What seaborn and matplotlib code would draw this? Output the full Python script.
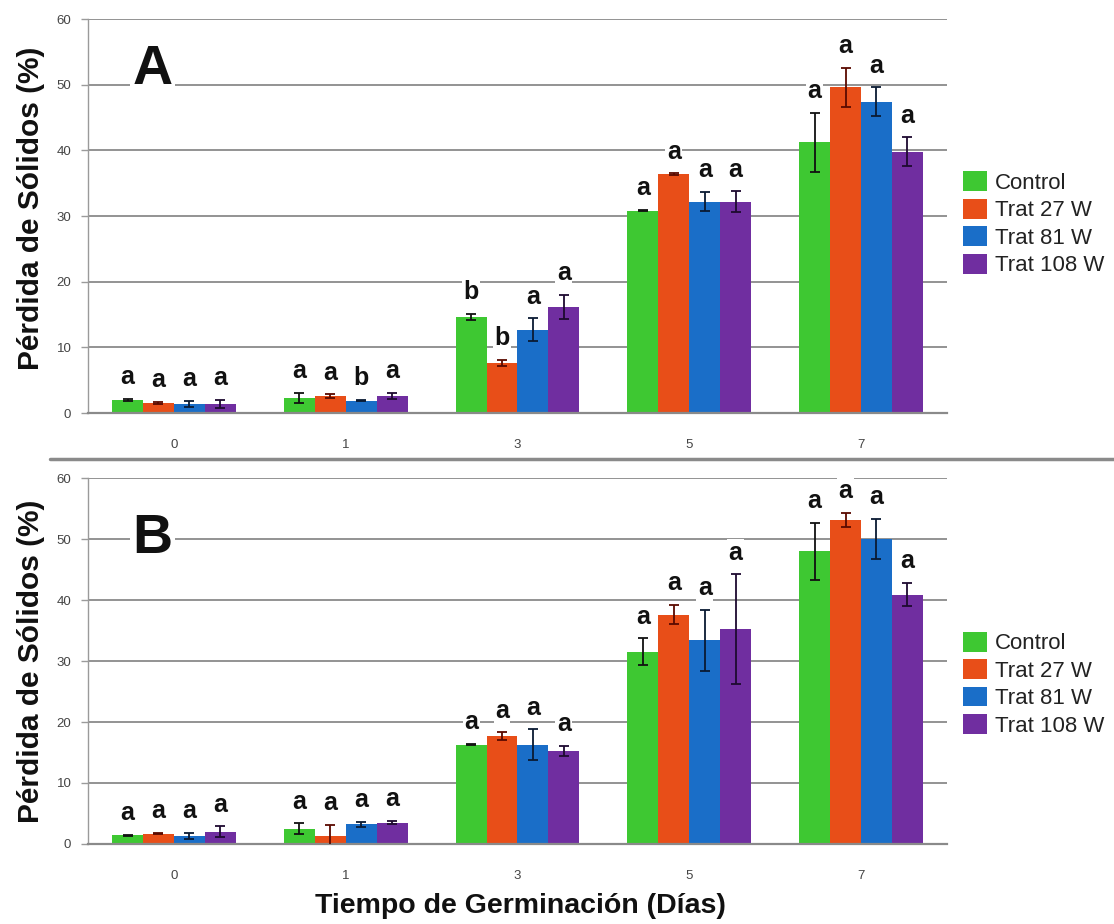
import matplotlib
matplotlib.use("Agg")
import matplotlib.pyplot as plt
from matplotlib.lines import Line2D
import seaborn as sns
import pandas as pd

# Días de germinación y tratamientos
days = ['0', '1', '3', '5', '7']
treatments = ['Control', 'Trat 27 W', 'Trat 81 W', 'Trat 108 W']
colors = ['#3EC832', '#E84E18', '#1A6EC8', '#702EA0']
err_colors = ['#111111', '#5a0a00', '#0a1a33', '#1e0a30']

# Panel A: medias, desviaciones y letras (una fila por tratamiento)
a_means = [
    [2.0, 2.3, 14.6, 30.8, 41.2],
    [1.5, 2.6, 7.6, 36.4, 49.6],
    [1.4, 1.9, 12.7, 32.2, 47.4],
    [1.4, 2.6, 16.1, 32.2, 39.8],
]
a_errs = [
    [0.15, 0.8, 0.5, 0.1, 4.5],
    [0.15, 0.25, 0.5, 0.1, 3.0],
    [0.5, 0.1, 1.7, 1.5, 2.2],
    [0.6, 0.45, 1.85, 1.55, 2.2],
]
a_letters = [
    ['a', 'a', 'b', 'a', 'a'],
    ['a', 'a', 'b', 'a', 'a'],
    ['a', 'b', 'a', 'a', 'a'],
    ['a', 'a', 'a', 'a', 'a'],
]

# Panel B
b_means = [
    [1.4, 2.5, 16.3, 31.5, 48.0],
    [1.7, 1.3, 17.7, 37.6, 53.1],
    [1.3, 3.2, 16.3, 33.4, 50.0],
    [2.0, 3.5, 15.3, 35.2, 40.9],
]
b_errs = [
    [0.15, 0.9, 0.15, 2.2, 4.7],
    [0.1, 1.8, 0.6, 1.6, 1.2],
    [0.5, 0.4, 2.5, 5.0, 3.3],
    [0.9, 0.3, 0.8, 9.0, 1.9],
]
b_letters = [['a'] * 5 for _ in treatments]

sns.set_theme(style="white")
plt.rcParams['font.family'] = ['Liberation Sans', 'DejaVu Sans']

fig = plt.figure(figsize=(11.14, 9.24), dpi=100)
ax_a = fig.add_axes([0.079, 0.553, 0.771, 0.4264])
ax_b = fig.add_axes([0.079, 0.0866, 0.771, 0.396])


def draw_panel(ax, means, errs, letters, tag, tag_y, tag_va, legend_y, ylab_y):
    rows = []
    for t, m_row in zip(treatments, means):
        for d, m in zip(days, m_row):
            rows.append({'day': d, 'value': m, 'treatment': t})
    df = pd.DataFrame(rows)

    sns.barplot(data=df, x='day', y='value', hue='treatment', order=days,
                hue_order=treatments, palette=colors, errorbar=None,
                width=0.72, gap=0, saturation=1, linewidth=0, ax=ax, zorder=2)

    bar_conts = list(ax.containers)
    for i, cont in enumerate(bar_conts):
        xs = [b.get_x() + b.get_width() / 2 for b in cont.patches]
        ax.errorbar(xs, means[i], yerr=errs[i], fmt='none', ecolor=err_colors[i],
                    elinewidth=1.3, capsize=3.5, capthick=1.3, zorder=3)
        for x, m, e, lab in zip(xs, means[i], errs[i], letters[i]):
            ax.annotate(lab, (x, m + e), xytext=(0, 7), textcoords='offset points',
                        ha='center', va='bottom', fontsize=18, fontweight='bold',
                        color='#111111', zorder=4,
                        bbox=dict(facecolor='white', edgecolor='none', pad=1.0))

    ax.set_xlim(-0.5, 4.5)
    ax.set_ylim(0, 60)
    ax.set_yticks(range(0, 61, 10))
    ax.yaxis.grid(True, color='#8a8a8a', linewidth=1.3, zorder=0)
    ax.set_axisbelow(True)
    for s in ['top', 'right']:
        ax.spines[s].set_visible(False)
    ax.spines['left'].set_color('#9a9a9a')
    ax.spines['left'].set_linewidth(1.0)
    ax.spines['bottom'].set_color('#8a8a8a')
    ax.spines['bottom'].set_linewidth(1.6)
    ax.tick_params(axis='y', left=True, length=5, width=1, color='#9a9a9a',
                   labelsize=9.5, labelcolor='#444444', pad=7)
    ax.tick_params(axis='x', bottom=False, labelsize=9.5, labelcolor='#444444', pad=13)

    ax.set_ylabel('Pérdida de Sólidos (%)', fontsize=21.5, fontweight='bold', color='#111111')
    ax.yaxis.set_label_coords(-0.05, ylab_y)
    ax.set_xlabel('')

    ax.text(0.075, tag_y, tag, transform=ax.transAxes, fontsize=40, fontweight='bold',
            ha='center', va=tag_va, color='#111111', zorder=5,
            bbox=dict(facecolor='white', edgecolor='none', pad=2))

    handles, labels = ax.get_legend_handles_labels()
    ax.legend(handles, labels, loc='center left', bbox_to_anchor=(1.0186, legend_y),
              frameon=False, fontsize=16, handlelength=1.1, handleheight=1.0,
              labelspacing=0.22, handletextpad=0.35, borderaxespad=0, borderpad=0,
              labelcolor='#222222')


draw_panel(ax_a, a_means, a_errs, a_letters, 'A', 0.835, 'baseline', 0.48, 0.52)
draw_panel(ax_b, b_means, b_errs, b_letters, 'B', 0.833, 'center', 0.437, 0.5)

ax_b.set_xlabel('Tiempo de Germinación (Días)', fontsize=20.5, fontweight='bold', color='#111111')
ax_b.xaxis.set_label_coords(0.503, -0.134)

# línea separadora entre paneles
fig.add_artist(Line2D([50 / 1114, 1.0], [1 - 459 / 924, 1 - 459 / 924],
                      color='#8a8a8a', linewidth=2.5, transform=fig.transFigure))

fig.savefig('out.png', dpi=100)
